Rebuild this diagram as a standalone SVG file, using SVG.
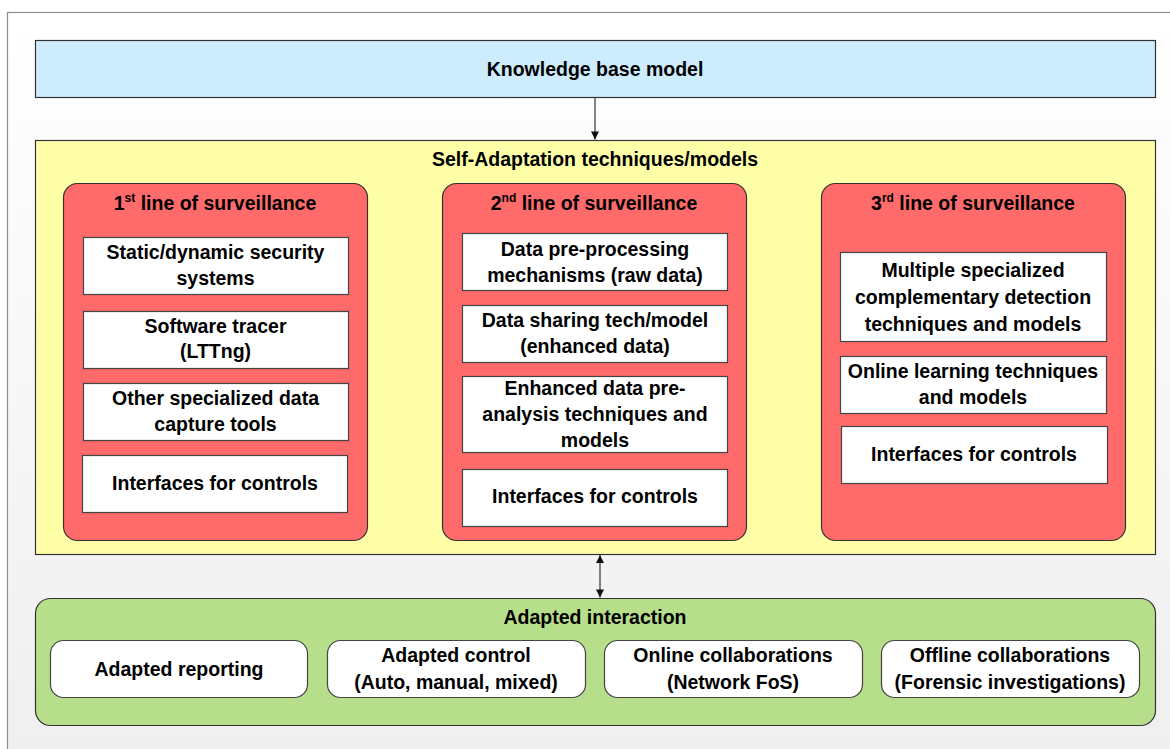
<svg xmlns="http://www.w3.org/2000/svg" width="1170" height="749" viewBox="0 0 1170 749">
<defs>
<linearGradient id="bg" x1="0" y1="0" x2="0" y2="1">
<stop offset="0" stop-color="#ffffff"/>
<stop offset="1" stop-color="#efefef"/>
</linearGradient>
<marker id="ah" viewBox="0 0 10 10" refX="10" refY="5" markerWidth="10" markerHeight="8" markerUnits="userSpaceOnUse" orient="auto-start-reverse">
<path d="M0,0 L10,5 L0,10 z" fill="#111"/>
</marker>
<style>
text{font-family:"Liberation Sans",Arial,sans-serif;font-weight:bold;font-size:19.5px;fill:#000;text-anchor:middle}
.frame{fill:url(#bg);stroke:#8c8c8c;stroke-width:1.2}
.kb{fill:#cdecfe;stroke:#333;stroke-width:1.2}
.ya{fill:#ffffa8;stroke:#333;stroke-width:1.2}
.red{fill:#ff6a6a;stroke:#333;stroke-width:1.2}
.wb{fill:#fff;stroke:#444;stroke-width:1.2}
.gr{fill:#b7de8a;stroke:#333;stroke-width:1.2}
.con{stroke:#222;stroke-width:1.1;fill:none}
.sup{font-size:12px}
</style>
</defs>
<rect class="frame" x="7.5" y="12.5" width="1175" height="750"/>

<g id="connectors">
<line class="con" x1="595" y1="97" x2="595" y2="139.5" marker-end="url(#ah)"/>
<line class="con" x1="367" y1="354" x2="441.5" y2="354" marker-end="url(#ah)"/>
<line class="con" x1="746" y1="354" x2="820.5" y2="354" marker-end="url(#ah)"/>
<line class="con" x1="600" y1="555" x2="600" y2="597.5" marker-start="url(#ah)" marker-end="url(#ah)"/>
</g>

<g id="knowledge">
<rect class="kb" x="35.5" y="40.5" width="1120" height="57"/>
<text x="595" y="76">Knowledge base model</text>
</g>

<g id="self-adaptation">
<rect class="ya" x="35.5" y="140.5" width="1120" height="414"/>
<text x="595" y="166">Self-Adaptation techniques/models</text>
</g>

<g id="line1">
<rect class="red" x="63.5" y="183.5" width="304" height="357" rx="14"/>
<text x="215" y="210">1<tspan class="sup" dy="-8">st</tspan><tspan dy="8"> line of surveillance</tspan></text>
</g>
<g id="l1-static">
<rect class="wb" x="83.5" y="237.5" width="265" height="57"/>
<text x="215.5" y="259">Static/dynamic security</text>
<text x="215.5" y="285">systems</text>
</g>
<g id="l1-tracer">
<rect class="wb" x="83.5" y="311.5" width="265" height="57"/>
<text x="215.5" y="333">Software tracer</text>
<text x="215.5" y="358">(LTTng)</text>
</g>
<g id="l1-other">
<rect class="wb" x="83.5" y="383.5" width="265" height="57"/>
<text x="215.5" y="405">Other specialized data</text>
<text x="215.5" y="431">capture tools</text>
</g>
<g id="l1-interfaces">
<rect class="wb" x="82.5" y="455.5" width="265" height="57"/>
<text x="215" y="490">Interfaces for controls</text>
</g>

<g id="line2">
<rect class="red" x="442.5" y="183.5" width="304" height="357" rx="14"/>
<text x="594" y="210">2<tspan class="sup" dy="-8">nd</tspan><tspan dy="8"> line of surveillance</tspan></text>
</g>
<g id="l2-preproc">
<rect class="wb" x="462.5" y="233.5" width="265" height="57"/>
<text x="595" y="256">Data pre-processing</text>
<text x="595" y="282">mechanisms (raw data)</text>
</g>
<g id="l2-sharing">
<rect class="wb" x="462.5" y="305.5" width="265" height="57"/>
<text x="595" y="327">Data sharing tech/model</text>
<text x="595" y="353">(enhanced data)</text>
</g>
<g id="l2-enhanced">
<rect class="wb" x="462.5" y="376.5" width="265" height="76"/>
<text x="595" y="395">Enhanced data pre-</text>
<text x="595" y="421">analysis techniques and</text>
<text x="595" y="447">models</text>
</g>
<g id="l2-interfaces">
<rect class="wb" x="462.5" y="469.5" width="265" height="57"/>
<text x="595" y="503">Interfaces for controls</text>
</g>

<g id="line3">
<rect class="red" x="821.5" y="183.5" width="304" height="357" rx="14"/>
<text x="973" y="210">3<tspan class="sup" dy="-8">rd</tspan><tspan dy="8"> line of surveillance</tspan></text>
</g>
<g id="l3-multiple">
<rect class="wb" x="840.5" y="252.5" width="266" height="89"/>
<text x="973" y="277">Multiple specialized</text>
<text x="973" y="304">complementary detection</text>
<text x="973" y="331">techniques and models</text>
</g>
<g id="l3-online">
<rect class="wb" x="840.5" y="356.5" width="266" height="57"/>
<text x="973" y="378">Online learning techniques</text>
<text x="973" y="404">and models</text>
</g>
<g id="l3-interfaces">
<rect class="wb" x="841.5" y="426.5" width="266" height="57"/>
<text x="974" y="461">Interfaces for controls</text>
</g>

<g id="adapted-interaction">
<rect class="gr" x="35.5" y="598.5" width="1120" height="127" rx="15"/>
<text x="595" y="624">Adapted interaction</text>
</g>
<g id="adapted-reporting">
<rect class="wb" x="50.5" y="640.5" width="257" height="57" rx="13"/>
<text x="179" y="676">Adapted reporting</text>
</g>
<g id="adapted-control">
<rect class="wb" x="327.5" y="640.5" width="258" height="57" rx="13"/>
<text x="456" y="662">Adapted control</text>
<text x="456" y="689">(Auto, manual, mixed)</text>
</g>
<g id="online-collab">
<rect class="wb" x="604.5" y="640.5" width="258" height="57" rx="13"/>
<text x="733" y="662">Online collaborations</text>
<text x="733" y="689">(Network FoS)</text>
</g>
<g id="offline-collab">
<rect class="wb" x="881.5" y="640.5" width="258" height="57" rx="13"/>
<text x="1010" y="662">Offline collaborations</text>
<text x="1010" y="689">(Forensic investigations)</text>
</g>
</svg>
